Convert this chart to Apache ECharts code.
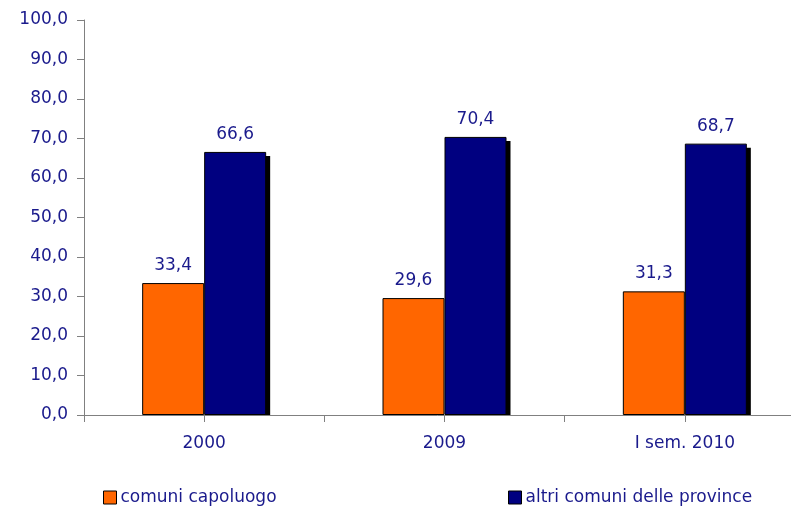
<!DOCTYPE html>
<html>
<head>
<meta charset="utf-8">
<script src="https://cdn.jsdelivr.net/npm/echarts@6/dist/echarts.min.js"></script>
<style>
  html, body { margin: 0; padding: 0; background: #fff; }
  #chart { width: 791px; height: 506px; }
</style>
</head>
<body>
<div id="chart"></div>
<script>
const categories = ['2000', '2009', 'I sem. 2010'];
const capoluogo = [33.4, 29.6, 31.3];
const altriComuni = [66.6, 70.4, 68.7];
const seriesNames = ['comuni capoluogo', 'altri comuni delle province'];
// half-category slots, only used for the tick marks under the axis
const halfSlots = ['', '', '', '', '', ''];

const navy = '#000080';
const textColor = '#1a1a8c';
const axisGray = '#808080';
const font = 'DejaVu Sans';
const BAR_W = 62;

function fmt(v) {
    return Number(v).toFixed(1).replace('.', ',');
}

const chart = echarts.init(document.getElementById('chart'));

const barLabel = {
    show: true, position: 'top', distance: 9,
    color: textColor, fontFamily: font, fontSize: 17,
    formatter: function (p) { return fmt(p.value); }
};

const legendBase = {
    padding: 0,
    itemWidth: 13, itemHeight: 13, itemGap: 6,
    icon: 'rect',
    itemStyle: { borderColor: '#000', borderWidth: 1 },
    textStyle: { color: textColor, fontFamily: font, fontSize: 17, padding: [0, 0, 0, -1] }
};

const gridBox = { left: 84, top: 20, width: 721, height: 395, outerBoundsMode: 'none', containLabel: false };

const option = {
    backgroundColor: '#fff',
    animation: false,
    grid: [Object.assign({}, gridBox), Object.assign({}, gridBox)],
    legend: [
        Object.assign({ data: [seriesNames[0]], left: 103, top: 489 }, legendBase),
        Object.assign({ data: [seriesNames[1]], left: 508, top: 489 }, legendBase)
    ],
    xAxis: [{
        type: 'category',
        gridIndex: 0,
        data: categories,
        axisLine: { lineStyle: { color: axisGray, width: 1 } },
        axisTick: { show: false },
        axisLabel: { color: textColor, fontFamily: font, fontSize: 17, margin: 20 }
    }, {
        type: 'category',
        gridIndex: 1,
        data: halfSlots,
        axisLine: { show: false },
        axisTick: { show: true, length: 7, interval: 0, lineStyle: { color: axisGray } },
        axisLabel: { show: false, interval: 0 }
    }],
    yAxis: [{
        type: 'value',
        gridIndex: 0,
        min: 0, max: 100, interval: 10,
        splitLine: { show: false },
        axisLine: { show: true, lineStyle: { color: axisGray, width: 1 } },
        axisTick: { show: true, length: 7, lineStyle: { color: axisGray } },
        axisLabel: {
            color: textColor, fontFamily: font, fontSize: 17, margin: 16,
            formatter: fmt
        }
    }, {
        type: 'value',
        gridIndex: 1,
        show: false
    }],
    series: [{
        // drop shadow behind the blue bars
        type: 'custom',
        z: 1,
        silent: true,
        data: altriComuni.map(function (v, i) { return [i, v]; }),
        renderItem: function (params, api) {
            const top = api.coord([api.value(0), api.value(1)]);
            const base = api.coord([api.value(0), 0]);
            return {
                type: 'rect',
                shape: { x: top[0] + 4, y: top[1] + 4, width: BAR_W, height: base[1] - top[1] - 4 },
                style: { fill: '#000' }
            };
        }
    }, {
        name: seriesNames[0],
        type: 'bar',
        z: 2,
        data: capoluogo,
        barWidth: BAR_W,
        barGap: '0%',
        itemStyle: { color: '#ff6600', borderColor: '#000', borderWidth: 1 },
        label: barLabel
    }, {
        name: seriesNames[1],
        type: 'bar',
        z: 2,
        data: altriComuni,
        barWidth: BAR_W,
        barGap: '0%',
        itemStyle: { color: navy, borderColor: '#000', borderWidth: 1 },
        label: barLabel
    }]
};

chart.setOption(option);
</script>
</body>
</html>
